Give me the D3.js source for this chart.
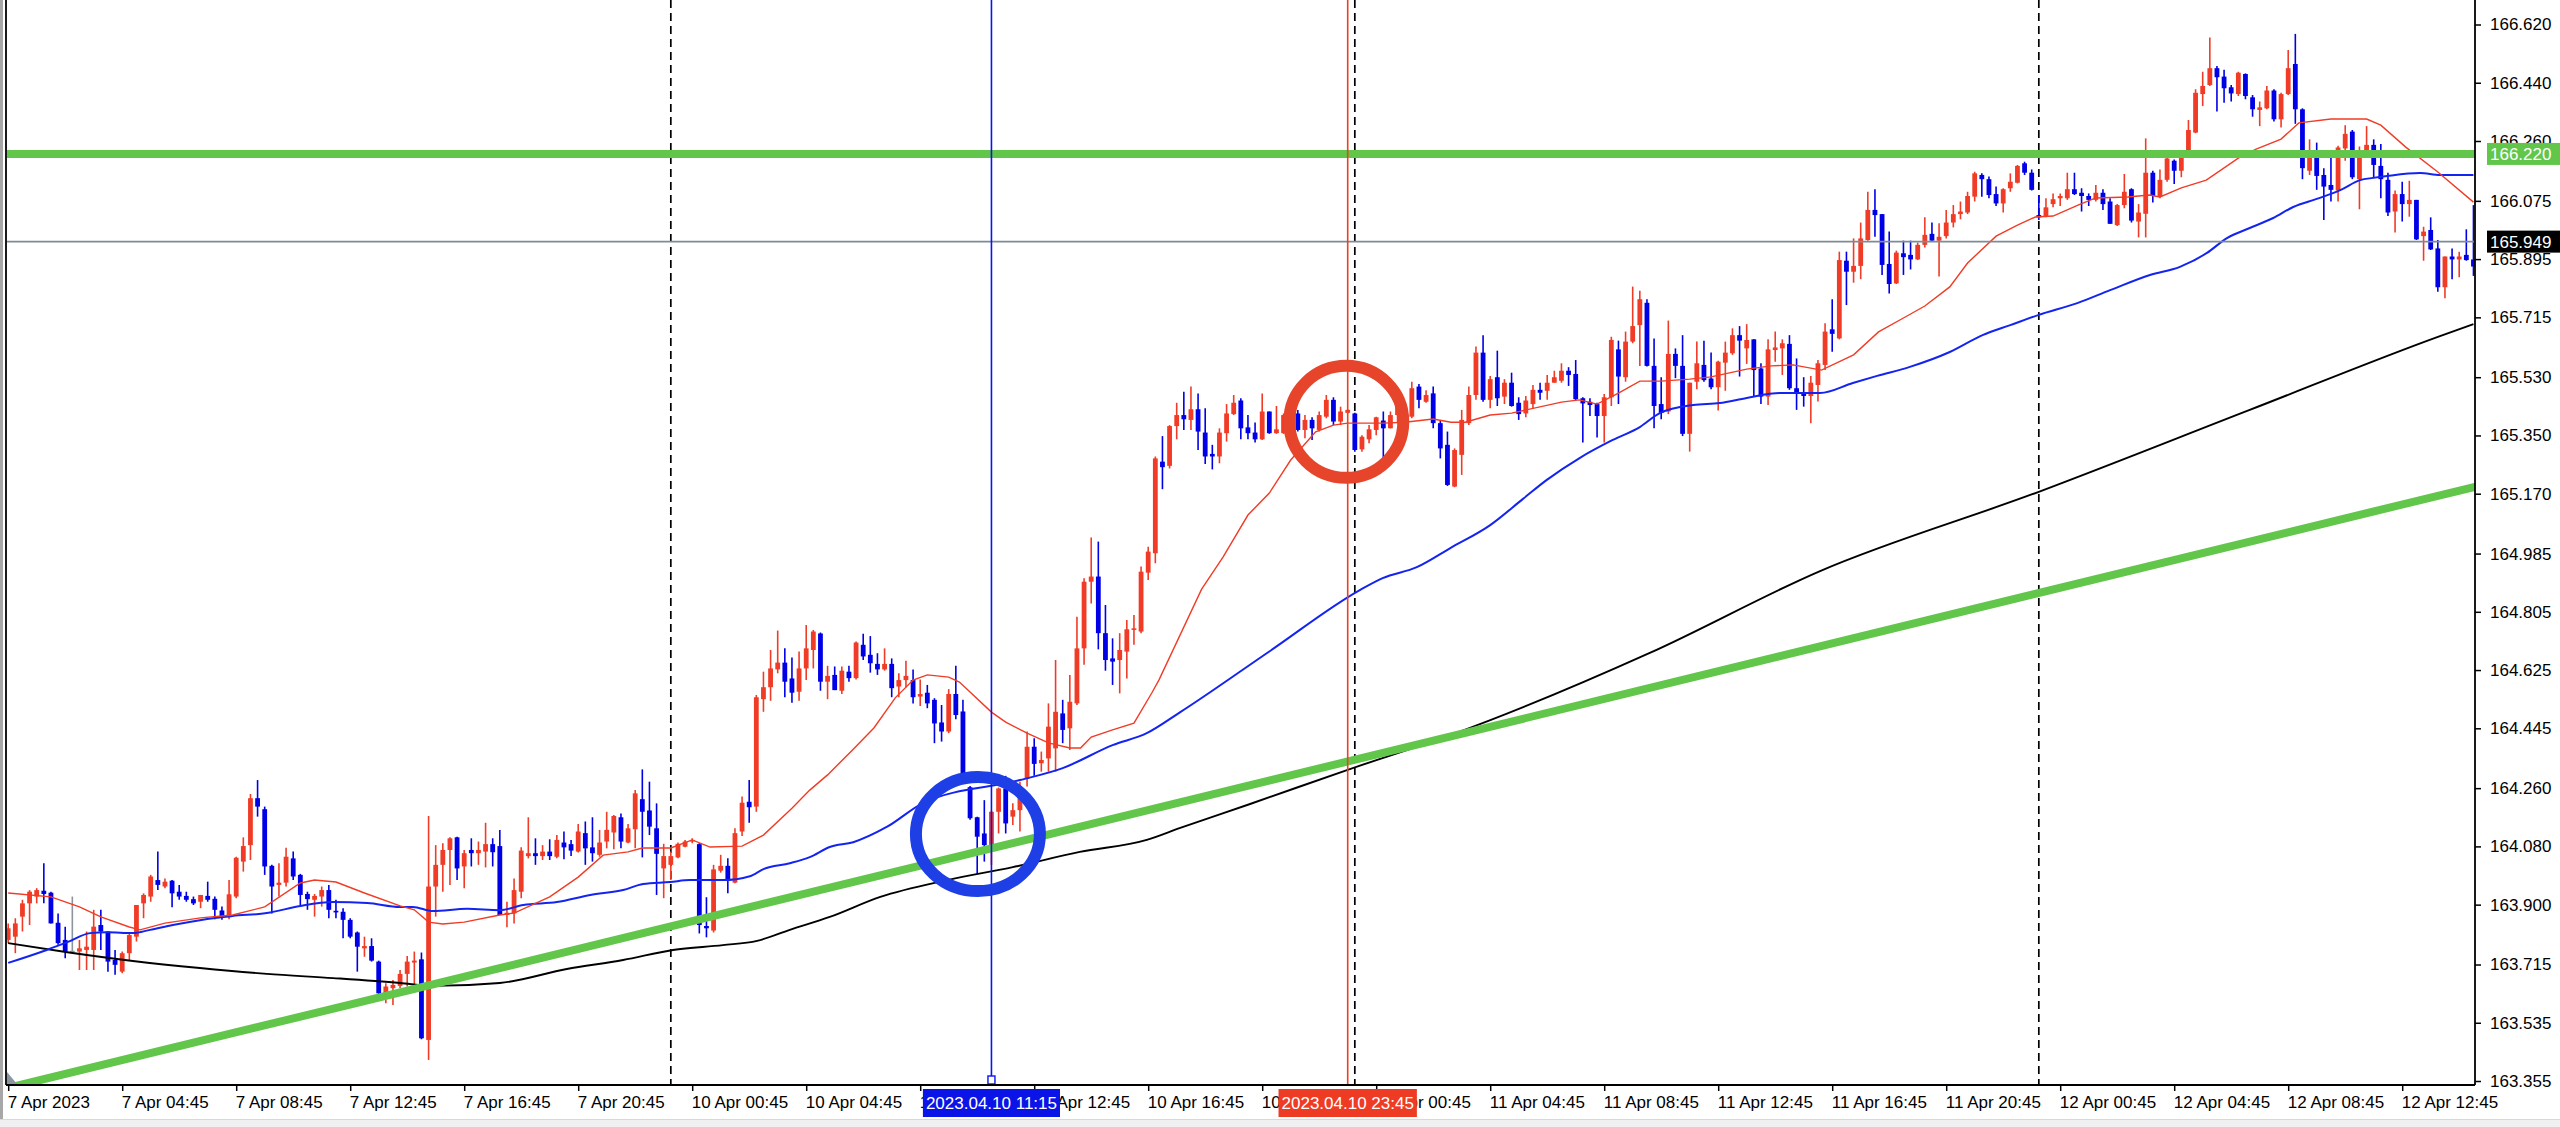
<!DOCTYPE html>
<html>
<head>
<meta charset="utf-8">
<title>USDJPY M15</title>
<script src="https://cdn.jsdelivr.net/npm/d3@7/dist/d3.min.js"></script>
<style>
html,body{margin:0;padding:0;background:#fff;overflow:hidden;}
svg{display:block;}
</style>
</head>
<body>
<svg id="chart" width="2560" height="1127"></svg>
<script>
// ---------------- DATA ----------------
const opens = [
163.791,163.801,163.863,163.904,163.925,163.943,163.937,163.844,163.791,163.755,
163.755,163.760,163.760,163.837,163.817,163.729,163.693,163.750,163.801,163.904,
163.925,163.976,163.956,163.974,163.940,163.927,163.917,163.909,163.927,163.918,
163.882,163.861,163.925,164.033,164.084,164.229,164.195,164.020,163.961,163.968,
164.043,163.992,163.933,163.915,163.925,163.945,163.881,163.878,163.853,163.814,
163.765,163.772,163.724,163.626,163.642,163.649,163.686,163.721,163.731,163.482,
163.956,164.023,164.069,164.108,164.018,164.069,164.059,164.064,164.087,164.081,
163.868,163.873,163.940,164.050,164.059,164.050,164.064,164.048,164.092,164.087,
164.064,164.121,164.077,164.054,164.095,164.123,164.170,164.092,164.133,164.226,
164.191,164.136,164.012,164.023,164.046,164.079,164.096,164.087,163.834,163.820,
164.005,164.020,163.968,164.126,164.218,164.203,164.535,164.572,164.627,164.648,
164.599,164.558,164.630,164.687,164.738,164.589,164.610,164.561,164.620,164.600,
164.703,164.672,164.644,164.627,164.644,164.574,164.594,164.594,164.543,164.555,
164.533,164.463,164.435,164.551,164.497,164.263,164.170,164.120,164.084,164.187,
164.259,164.172,164.192,164.290,164.388,164.337,164.352,164.383,164.491,164.445,
164.522,164.692,164.898,164.914,164.739,164.661,164.656,164.682,164.749,164.744,
164.926,164.986,165.269,165.256,165.379,165.413,165.398,165.431,165.359,165.293,
165.285,165.357,165.416,165.458,165.375,165.359,165.338,165.424,165.357,165.357,
165.413,165.418,165.367,165.398,165.367,165.408,165.460,165.393,165.420,165.418,
165.307,165.338,165.367,165.396,165.372,165.413,165.439,165.408,165.501,165.454,
165.480,165.388,165.321,165.192,165.290,165.388,165.475,165.606,165.460,165.530,
165.470,165.513,165.451,165.418,165.447,165.491,165.488,165.513,165.519,165.550,
165.540,165.465,165.454,165.447,165.410,165.468,165.616,165.530,165.640,165.691,
165.760,165.565,165.447,165.424,165.602,165.565,165.355,165.516,165.568,165.526,
165.499,165.575,165.604,165.660,165.619,165.647,165.557,165.470,165.614,165.619,
165.633,165.496,165.482,165.472,165.506,165.568,165.678,165.650,165.890,165.856,
165.874,165.954,166.047,166.034,165.880,165.820,165.913,165.908,165.894,165.939,
165.973,165.952,165.966,166.008,166.034,166.039,166.088,166.155,166.142,166.096,
166.067,166.114,166.131,166.191,166.162,166.031,166.028,166.065,166.083,166.083,
166.111,166.100,166.090,166.078,166.100,166.073,166.000,166.062,166.111,166.011,
166.035,166.162,166.088,166.140,166.199,166.168,166.217,166.286,166.405,166.433,
166.485,166.459,166.426,166.405,166.467,166.395,166.356,166.361,166.416,166.327,
166.405,166.498,166.358,166.168,166.227,166.155,166.124,166.107,166.237,166.289,
166.142,166.224,166.248,166.183,166.140,166.042,166.096,166.065,166.078,165.966,
165.985,165.928,165.808,165.903,165.894,165.908,165.894
];
const highs = [
163.842,163.858,163.915,163.945,163.951,164.028,163.940,163.873,163.832,163.925,
163.791,163.817,163.884,163.884,163.817,163.760,163.755,163.812,163.899,163.935,
163.992,164.064,163.981,163.976,163.961,163.940,163.925,163.930,163.971,163.925,
163.894,163.976,164.048,164.108,164.242,164.285,164.203,164.023,164.028,164.076,
164.064,163.995,163.940,163.933,163.956,163.961,163.915,163.889,163.858,163.817,
163.801,163.796,163.727,163.657,163.667,163.698,163.741,163.755,163.752,164.174,
164.084,164.090,164.108,164.110,164.069,164.105,164.095,164.153,164.105,164.131,
163.909,163.981,164.077,164.170,164.105,164.084,164.102,164.115,164.126,164.100,
164.149,164.157,164.170,164.131,164.187,164.177,164.182,164.149,164.254,164.318,
164.280,164.213,164.088,164.064,164.092,164.100,164.105,164.090,163.923,164.023,
164.054,164.043,164.136,164.234,164.285,164.548,164.620,164.687,164.747,164.692,
164.664,164.682,164.764,164.749,164.741,164.638,164.636,164.636,164.638,164.713,
164.737,164.730,164.677,164.692,164.661,164.615,164.654,164.627,164.596,164.579,
164.538,164.517,164.566,164.638,164.533,164.267,164.172,164.223,164.190,164.262,
164.298,164.213,164.280,164.435,164.414,164.373,164.522,164.656,164.533,164.610,
164.790,164.909,165.035,165.022,164.826,164.723,164.739,164.780,164.795,164.945,
165.006,165.285,165.348,165.382,165.451,165.485,165.501,165.480,165.434,165.321,
165.372,165.447,165.475,165.465,165.413,165.390,165.480,165.424,165.441,165.418,
165.429,165.429,165.413,165.406,165.424,165.475,165.468,165.439,165.431,165.420,
165.351,165.382,165.408,165.424,165.424,165.444,165.449,165.516,165.509,165.490,
165.501,165.398,165.362,165.310,165.429,165.501,165.625,165.660,165.534,165.612,
165.524,165.544,165.468,165.472,165.506,165.513,165.537,165.550,165.573,165.561,
165.583,165.468,165.465,165.451,165.478,165.655,165.643,165.671,165.810,165.797,
165.771,165.650,165.530,165.705,165.619,165.660,165.513,165.640,165.643,165.606,
165.581,165.640,165.681,165.688,165.694,165.647,165.573,165.647,165.671,165.647,
165.660,165.588,165.530,165.534,165.583,165.697,165.771,165.918,165.918,165.959,
166.008,166.103,166.111,166.034,165.980,165.921,165.952,165.952,165.946,166.024,
166.008,166.006,166.047,166.062,166.073,166.103,166.165,166.160,166.150,166.119,
166.114,166.160,166.186,166.196,166.172,166.093,166.083,166.098,166.098,166.162,
166.162,166.114,166.098,166.124,166.111,166.083,166.065,166.158,166.114,166.065,
166.268,166.168,166.172,166.227,166.203,166.230,166.325,166.420,166.474,166.580,
166.492,166.480,166.433,166.474,166.469,166.402,166.382,166.430,166.420,166.409,
166.541,166.591,166.361,166.265,166.255,166.176,166.217,166.245,166.309,166.294,
166.243,166.306,166.265,166.251,166.162,166.107,166.134,166.137,166.078,165.995,
166.024,165.954,165.903,165.928,165.918,165.987,166.062
];
const lows = [
163.781,163.750,163.817,163.837,163.904,163.904,163.842,163.776,163.734,163.750,
163.698,163.698,163.698,163.760,163.693,163.683,163.688,163.729,163.786,163.858,
163.909,163.945,163.951,163.892,163.915,163.909,163.899,163.889,163.909,163.855,
163.853,163.855,163.920,164.002,164.038,164.172,163.992,163.873,163.925,163.956,
163.976,163.894,163.884,163.863,163.894,163.858,163.858,163.796,163.796,163.693,
163.739,163.724,163.621,163.595,163.590,163.642,163.647,163.647,163.484,163.420,
163.863,163.940,163.961,163.976,163.951,164.018,164.023,164.015,164.018,163.868,
163.830,163.842,163.920,164.043,164.023,164.038,164.038,164.043,164.040,164.050,
164.061,164.023,164.033,164.048,164.074,164.071,164.074,164.090,164.074,164.046,
164.115,163.930,163.920,163.976,164.043,164.077,164.090,163.811,163.799,163.814,
163.999,163.935,163.966,164.112,164.153,164.187,164.496,164.530,164.615,164.541,
164.524,164.530,164.594,164.630,164.561,164.535,164.563,164.551,164.589,164.596,
164.656,164.617,164.610,164.623,164.541,164.541,164.572,164.522,164.514,164.507,
164.399,164.404,164.430,164.473,164.291,164.162,163.995,164.033,164.023,164.120,
164.120,164.146,164.126,164.265,164.298,164.311,164.311,164.311,164.399,164.378,
164.517,164.641,164.831,164.689,164.623,164.579,164.553,164.599,164.703,164.739,
164.903,164.955,165.184,165.248,165.338,165.367,165.367,165.305,165.262,165.245,
165.264,165.331,165.413,165.338,165.338,165.328,165.336,165.355,165.355,165.355,
165.403,165.362,165.341,165.336,165.362,165.403,165.382,165.382,165.418,165.300,
165.300,165.326,165.351,165.279,165.372,165.388,165.403,165.403,165.434,165.451,
165.372,165.279,165.194,165.190,165.228,165.382,165.460,165.454,165.434,165.441,
165.447,165.439,165.398,165.406,165.434,165.460,165.460,165.513,165.513,165.503,
165.458,165.328,165.410,165.344,165.328,165.441,165.447,165.516,165.635,165.565,
165.563,165.372,165.400,165.416,165.527,165.348,165.300,165.493,165.516,165.493,
165.427,165.488,165.599,165.532,165.571,165.470,165.447,165.444,165.578,165.537,
165.491,165.429,165.439,165.388,165.455,165.552,165.609,165.647,165.753,165.822,
165.833,165.952,165.964,165.846,165.789,165.818,165.846,165.863,165.892,165.931,
165.952,165.841,165.959,165.993,166.018,166.034,166.073,166.088,166.083,166.059,
166.039,166.103,166.129,166.155,166.107,166.016,166.024,166.055,166.059,166.078,
166.093,166.042,166.059,166.073,166.047,166.004,165.997,166.052,166.008,165.962,
165.962,166.070,166.083,166.134,166.127,166.148,166.214,166.284,166.368,166.430,
166.351,166.378,166.382,166.399,166.389,166.335,166.306,166.358,166.320,166.302,
166.402,166.313,166.142,166.155,166.109,166.016,166.073,166.073,166.199,166.142,
166.049,166.209,166.145,166.083,166.028,165.977,166.011,166.026,165.954,165.890,
165.923,165.794,165.774,165.833,165.839,165.890,165.843
];
const closes = [
163.827,163.842,163.904,163.940,163.945,163.933,163.842,163.781,163.755,163.755,
163.765,163.770,163.832,163.817,163.724,163.714,163.750,163.806,163.899,163.930,
163.987,163.961,163.971,163.935,163.925,163.915,163.904,163.930,163.915,163.884,
163.863,163.932,164.045,164.081,164.229,164.203,164.018,163.956,163.968,164.048,
163.987,163.930,163.917,163.927,163.945,163.884,163.876,163.853,163.801,163.770,
163.772,163.727,163.626,163.647,163.652,163.686,163.724,163.727,163.487,163.956,
164.023,164.069,164.105,164.012,164.059,164.059,164.069,164.087,164.062,163.868,
163.875,163.945,164.067,164.059,164.050,164.064,164.050,164.100,164.077,164.067,
164.126,164.074,164.059,164.092,164.131,164.174,164.095,164.136,164.244,164.187,
164.141,164.057,164.050,164.050,164.088,164.095,164.100,163.837,163.827,164.009,
164.020,163.976,164.121,164.215,164.201,164.541,164.572,164.630,164.648,164.589,
164.555,164.630,164.692,164.744,164.589,164.607,164.563,164.623,164.600,164.710,
164.667,164.646,164.627,164.644,164.569,164.594,164.607,164.541,164.551,164.522,
164.460,164.435,164.551,164.486,164.296,164.167,164.110,164.084,164.187,164.259,
164.151,164.192,164.234,164.388,164.335,164.347,164.450,164.496,164.440,164.527,
164.692,164.898,164.914,164.739,164.656,164.651,164.687,164.751,164.754,164.929,
164.991,165.279,165.252,165.379,165.413,165.400,165.431,165.362,165.285,165.285,
165.359,165.418,165.451,165.372,165.357,165.338,165.424,165.357,165.369,165.413,
165.418,165.367,165.398,165.372,165.413,165.460,165.393,165.424,165.429,165.305,
165.346,165.369,165.406,165.372,165.413,165.439,165.410,165.496,165.460,165.475,
165.388,165.310,165.197,165.305,165.398,165.475,165.606,165.460,165.524,165.465,
165.513,165.441,165.416,165.458,165.491,165.482,165.513,165.530,165.550,165.537,
165.462,165.449,165.444,165.410,165.468,165.645,165.532,165.640,165.688,165.771,
165.565,165.441,165.420,165.602,165.565,165.355,165.513,165.573,165.521,165.499,
165.578,165.606,165.660,165.643,165.645,165.552,165.470,165.616,165.622,165.635,
165.496,165.480,165.472,165.513,165.573,165.671,165.664,165.892,165.856,165.874,
165.959,166.047,166.031,165.877,165.818,165.915,165.901,165.894,165.939,165.970,
165.952,165.964,166.008,166.034,166.042,166.090,166.160,166.142,166.093,166.067,
166.111,166.134,166.183,166.162,166.109,166.024,166.055,166.080,166.090,166.111,
166.096,166.090,166.078,166.100,166.065,166.004,166.062,166.103,166.014,166.039,
166.162,166.090,166.140,166.206,166.168,166.222,166.294,166.409,166.430,166.485,
166.457,166.423,166.407,166.471,166.399,166.358,166.364,166.416,166.327,166.405,
166.485,166.358,166.176,166.222,166.152,166.119,166.109,166.240,166.282,166.148,
166.232,166.248,166.186,166.142,166.039,166.096,166.065,166.078,165.956,165.980,
165.925,165.808,165.903,165.894,165.903,165.892,165.872
];

// moving averages, [bar index, price]
const maFastPts = [[0,163.936],[6,163.924],[10,163.893],[13,163.862],[17,163.831],[18.5,163.822],[22,163.843],[27,163.859],[31.5,163.868],[36,163.893],[41,163.967],[43,163.976],[46,163.970],[50,163.936],[55,163.896],[57,163.884],[59,163.846],[61,163.840],[64,163.846],[69,163.868],[71,163.874],[76,163.924],[80,163.985],[83.5,164.053],[87,164.063],[89,164.075],[93,164.075],[96,164.100],[98.5,164.078],[103,164.081],[106,164.115],[110,164.198],[112.5,164.254],[115,164.301],[118.5,164.378],[121.5,164.446],[124.5,164.539],[127,164.594],[129,164.610],[132,164.603],[133.5,164.588],[138,164.495],[140,164.464],[143,164.430],[146,164.400],[149,164.384],[150.5,164.384],[152,164.418],[155,164.440],[158,164.461],[160.5,164.554],[161.5,164.594],[167.5,164.875],[170.5,164.974],[174,165.104],[177,165.172],[180,165.274],[183.5,165.361],[186,165.382],[188,165.388],[193,165.388],[196,165.391],[200,165.401],[202.5,165.391],[204.5,165.391],[208,165.413],[211,165.419],[218,165.453],[220.5,165.460],[223,165.447],[226,165.481],[229,165.518],[232,165.518],[236,165.524],[239,165.531],[244,165.555],[247.5,165.565],[250.5,165.568],[254.5,165.552],[259,165.599],[262.5,165.670],[266,165.713],[269,165.750],[272.5,165.809],[275,165.883],[279,165.966],[282,166.000],[284.5,166.025],[287,166.028],[290.5,166.062],[293,166.084],[297.5,166.087],[300.5,166.093],[302,166.087],[305,166.115],[308.5,166.139],[313,166.207],[315.5,166.235],[319,166.266],[321.5,166.316],[326,166.328],[331,166.328],[333,166.309],[336.5,166.241],[341,166.164],[346,166.071]];
const maMidPts = [[0,163.720],[5.4,163.760],[8.3,163.784],[11.5,163.812],[13.9,163.815],[17.5,163.812],[19.9,163.822],[23.1,163.837],[26.9,163.852],[31.5,163.865],[36.3,163.874],[41,163.896],[45.6,163.908],[50.4,163.905],[55,163.893],[56.8,163.893],[59.6,163.880],[64.4,163.887],[69,163.883],[72.3,163.899],[77,163.908],[81.7,163.930],[86.3,163.945],[89.1,163.964],[92.9,163.970],[95.7,163.976],[100.3,163.976],[104.1,163.988],[106,164.010],[109.7,164.028],[112.5,164.047],[115.3,164.078],[118.6,164.093],[123.3,164.140],[128.4,164.214],[142,164.285],[148,164.322],[155,164.393],[159.8,164.430],[164.5,164.495],[177.1,164.684],[189.7,164.872],[192.9,164.909],[197.7,164.943],[202.4,165.002],[208,165.073],[212.6,165.154],[215.9,165.212],[220.6,165.281],[225.2,165.336],[229,165.376],[231.8,165.419],[236.5,165.444],[240.2,165.450],[244,165.466],[248.7,165.481],[254.3,165.481],[258.9,165.512],[262.3,165.534],[266.9,165.562],[272.5,165.608],[277.1,165.660],[281,165.691],[284.9,165.722],[290.4,165.759],[295,165.799],[300.6,165.846],[304.8,165.871],[308.6,165.914],[311.4,165.960],[314.6,165.991],[317.9,166.022],[320.7,166.056],[324,166.081],[327.3,166.108],[330.1,166.139],[331.9,166.146],[333.9,166.152],[338.5,166.161],[341.3,166.155],[346,166.155]];
const maSlowPts = [[0,163.781],[8.3,163.753],[17.5,163.726],[26.9,163.704],[36.3,163.686],[45.6,163.673],[55,163.658],[59.6,163.649],[69,163.658],[78.4,163.701],[86.3,163.729],[93.3,163.760],[100.3,163.775],[105.1,163.788],[109.7,163.822],[115.3,163.862],[122.4,163.924],[131.8,163.976],[141,164.016],[150.4,164.063],[159.8,164.100],[164.5,164.137],[174.3,164.211],[187.9,164.316],[202.8,164.427],[230.4,164.678],[254.3,164.931],[284.9,165.175],[314.6,165.429],[341.3,165.657],[346,165.694]];

const priceTicks = [166.620,166.440,166.260,166.075,165.895,165.715,165.530,165.350,165.170,164.985,164.805,164.625,164.445,164.260,164.080,163.900,163.715,163.535,163.355];
const timeLabels = ["7 Apr 2023","7 Apr 04:45","7 Apr 08:45","7 Apr 12:45","7 Apr 16:45","7 Apr 20:45","10 Apr 00:45","10 Apr 04:45","10 Apr 08:45","10 Apr 12:45","10 Apr 16:45","10 Apr 20:45","11 Apr 00:45","11 Apr 04:45","11 Apr 08:45","11 Apr 12:45","11 Apr 16:45","11 Apr 20:45","12 Apr 00:45","12 Apr 04:45","12 Apr 08:45","12 Apr 12:45"];
const barsPerLabel = 16;
const daySeparators = [93, 189, 285];
const trendAnchors = [[69, 163.704], [162, 164.203]];
const levelPrice = 166.220;
const lastPrice = 165.949;
const vMarkers = [{i:138, label:"2023.04.10 11:15", kind:"blue"}, {i:188, label:"2023.04.10 23:45", kind:"red"}];
const circleMarks = [{i:136.1, price:164.118, kind:"blue"}, {i:187.8, price:165.392, kind:"red"}];

// ---------------- STYLE ----------------
const RED = "#f03c26", BLUE = "#0000e6", DOJI = "#8a959c";
const GREEN = "#62c64b";
const FONT = "'Liberation Sans', Arial, sans-serif";
const plotLeft = 6, plotRight = 2475, plotTop = 0, plotBottom = 1085;

const svg = d3.select("#chart");
svg.append("rect").attr("width",2560).attr("height",1127).attr("fill","#fff");

const n = closes.length;
const x = d3.scaleLinear().domain([0, 346]).range([8.2, 8.2 + 7.125*346]);
const y = d3.scaleLinear().domain([163.355, 166.620]).range([1081, 24.5]);

svg.append("defs").append("clipPath").attr("id","plotclip")
  .append("rect").attr("x",plotLeft+1).attr("y",plotTop).attr("width",plotRight-plotLeft-1).attr("height",plotBottom-plotTop);
const plot = svg.append("g").attr("clip-path","url(#plotclip)");

// day separators
plot.append("g").selectAll("line").data(daySeparators).join("line")
  .attr("x1", d=>x(d)).attr("x2", d=>x(d)).attr("y1", plotTop).attr("y2", plotBottom)
  .attr("stroke","#000").attr("stroke-width",1.7).attr("stroke-dasharray","8,5");

// candles
const bars = d3.range(n).map(i => ({i, o:opens[i], c:closes[i],
  h:Math.max(highs[i],opens[i],closes[i]), l:Math.min(lows[i],opens[i],closes[i])}));
const colorOf = d => d.c > d.o ? RED : (d.c < d.o ? BLUE : DOJI);
const cg = plot.append("g");
cg.selectAll("line.wick").data(bars).join("line").attr("class","wick")
  .attr("x1", d=>x(d.i)).attr("x2", d=>x(d.i))
  .attr("y1", d=>y(d.h)).attr("y2", d=>y(d.l))
  .attr("stroke", colorOf).attr("stroke-width",1.6);
cg.selectAll("rect.body").data(bars.filter(d=>d.o!==d.c)).join("rect").attr("class","body")
  .attr("x", d=>x(d.i)-2.4).attr("width",4.8)
  .attr("y", d=>y(Math.max(d.o,d.c)))
  .attr("height", d=>Math.max(1.6, Math.abs(y(d.o)-y(d.c))))
  .attr("fill", colorOf);
cg.selectAll("line.doji").data(bars.filter(d=>d.o===d.c)).join("line").attr("class","doji")
  .attr("x1", d=>x(d.i)-2.4).attr("x2", d=>x(d.i)+2.4)
  .attr("y1", d=>y(d.o)).attr("y2", d=>y(d.o))
  .attr("stroke", DOJI).attr("stroke-width",1.6);

// moving averages
const maLine = d3.line().x(d=>x(d[0])).y(d=>y(d[1]));
const maSmooth = d3.line().x(d=>x(d[0])).y(d=>y(d[1])).curve(d3.curveMonotoneX);
plot.append("path").attr("d", maSmooth(maSlowPts)).attr("fill","none").attr("stroke","#000").attr("stroke-width",1.9);
plot.append("path").attr("d", maSmooth(maMidPts)).attr("fill","none").attr("stroke","#1424f0").attr("stroke-width",2);
plot.append("path").attr("d", maLine(maFastPts)).attr("fill","none").attr("stroke",RED).attr("stroke-width",1.4);

// current price line
plot.append("line").attr("x1",plotLeft).attr("x2",plotRight).attr("y1",y(lastPrice)).attr("y2",y(lastPrice))
  .attr("stroke","#7f8b96").attr("stroke-width",1.6);

// horizontal level
plot.append("line").attr("x1",plotLeft).attr("x2",plotRight).attr("y1",y(levelPrice)).attr("y2",y(levelPrice))
  .attr("stroke",GREEN).attr("stroke-width",8);

// trend line (ray through two anchors)
const slope = (trendAnchors[1][1]-trendAnchors[0][1])/(trendAnchors[1][0]-trendAnchors[0][0]);
const tAt = i => trendAnchors[0][1] + slope*(i - trendAnchors[0][0]);
plot.append("line").attr("x1", x(-20)).attr("y1", y(tAt(-20))).attr("x2", x(360)).attr("y2", y(tAt(360)))
  .attr("stroke",GREEN).attr("stroke-width",8);

// vertical marker lines
const markColor = k => k==="blue" ? "#0a14f0" : "#f0401e";
plot.append("g").selectAll("line").data(vMarkers).join("line")
  .attr("x1", d=>x(d.i)).attr("x2", d=>x(d.i)).attr("y1", plotTop).attr("y2", plotBottom)
  .attr("stroke", d=>markColor(d.kind)).attr("stroke-width",1.6);
// small anchor square of blue line
svg.append("rect").attr("x", x(vMarkers[0].i)-3.5).attr("y", plotBottom-9).attr("width",7).attr("height",8)
  .attr("fill","#fff").attr("stroke", markColor("blue")).attr("stroke-width",1.4);

// circles
const circColor = k => k==="blue" ? "#1e3fe6" : "#e6452b";
svg.append("g").selectAll("ellipse").data(circleMarks).join("ellipse")
  .attr("cx", d=>x(d.i)).attr("cy", d=>y(d.price))
  .attr("rx", d=>d.kind==="blue"?62:57).attr("ry", d=>d.kind==="blue"?57:56)
  .attr("fill","none").attr("stroke", d=>circColor(d.kind)).attr("stroke-width",12);

// ---------------- FRAME & AXES ----------------
svg.append("rect").attr("x",0).attr("y",0).attr("width",3).attr("height",1119).attr("fill","#a7a7a7");
svg.append("line").attr("x1",plotLeft).attr("x2",plotLeft).attr("y1",0).attr("y2",plotBottom)
  .attr("stroke","#000").attr("stroke-width",1.8);
svg.append("line").attr("x1",plotLeft).attr("x2",plotRight).attr("y1",plotBottom).attr("y2",plotBottom)
  .attr("stroke","#000").attr("stroke-width",1.8);
svg.append("line").attr("x1",plotRight).attr("x2",plotRight).attr("y1",0).attr("y2",plotBottom)
  .attr("stroke","#000").attr("stroke-width",1.8);
svg.append("path").attr("d", `M${plotLeft+1},${plotBottom-1} L${plotLeft+1},${plotBottom-13} L${plotLeft+11},${plotBottom-1} Z`)
  .attr("fill","#8a96a0");

// price axis
const yAxis = d3.axisRight(y).tickValues(priceTicks).tickFormat(d=>d.toFixed(3))
  .tickSizeInner(6).tickSizeOuter(0).tickPadding(9);
const ya = svg.append("g").attr("transform",`translate(${plotRight},0)`).call(yAxis);
ya.select(".domain").remove();
ya.selectAll("line").attr("stroke","#000").attr("stroke-width",1.5);
ya.selectAll("text").attr("font-family",FONT).attr("font-size",17).attr("fill","#000");
ya.attr("font-family",FONT).attr("font-size",17);

// time axis
const tickIdx = timeLabels.map((_,k)=>k*barsPerLabel);
const xAxis = d3.axisBottom(x).tickValues(tickIdx).tickFormat((d,k)=>timeLabels[k])
  .tickSizeInner(6).tickSizeOuter(0).tickPadding(5);
const xa = svg.append("g").attr("transform",`translate(0,${plotBottom})`).call(xAxis);
xa.select(".domain").remove();
xa.selectAll("line").attr("stroke","#000").attr("stroke-width",1.5);
xa.selectAll("text").attr("font-family",FONT).attr("font-size",17).attr("fill","#000")
  .attr("text-anchor","start").attr("x",-1);
xa.attr("font-family",FONT).attr("font-size",17);

// price labels (level + last)
function priceBox(price, fill){
  const cy = y(price);
  svg.append("rect").attr("x",2487).attr("y",cy-11).attr("width",73).attr("height",22).attr("fill",fill);
  svg.append("text").attr("x",2490).attr("y",cy).attr("dy","0.36em")
    .attr("font-family",FONT).attr("font-size",17).attr("fill","#fff").text(price.toFixed(3));
}
priceBox(levelPrice, GREEN);
priceBox(lastPrice, "#000");

// time labels of marker lines
vMarkers.forEach(m=>{
  const g = svg.append("g");
  const t = g.append("text").attr("x", x(m.i)).attr("y", 1103).attr("dy","0.36em")
    .attr("text-anchor","middle").attr("font-family",FONT).attr("font-size",17).attr("fill","#fff").text(m.label);
  const w = t.node().getComputedTextLength() + 6;
  g.insert("rect","text").attr("x", x(m.i)-w/2).attr("y",1089).attr("width",w).attr("height",28)
    .attr("fill", m.kind==="blue" ? "#0a14e6" : "#ee3b24");
});

// window bottom band
svg.append("rect").attr("x",0).attr("y",1119).attr("width",2560).attr("height",8).attr("fill","#f0f0f0");
svg.append("line").attr("x1",0).attr("x2",2560).attr("y1",1119.5).attr("y2",1119.5).attr("stroke","#d8d8d8");
</script>
</body>
</html>
